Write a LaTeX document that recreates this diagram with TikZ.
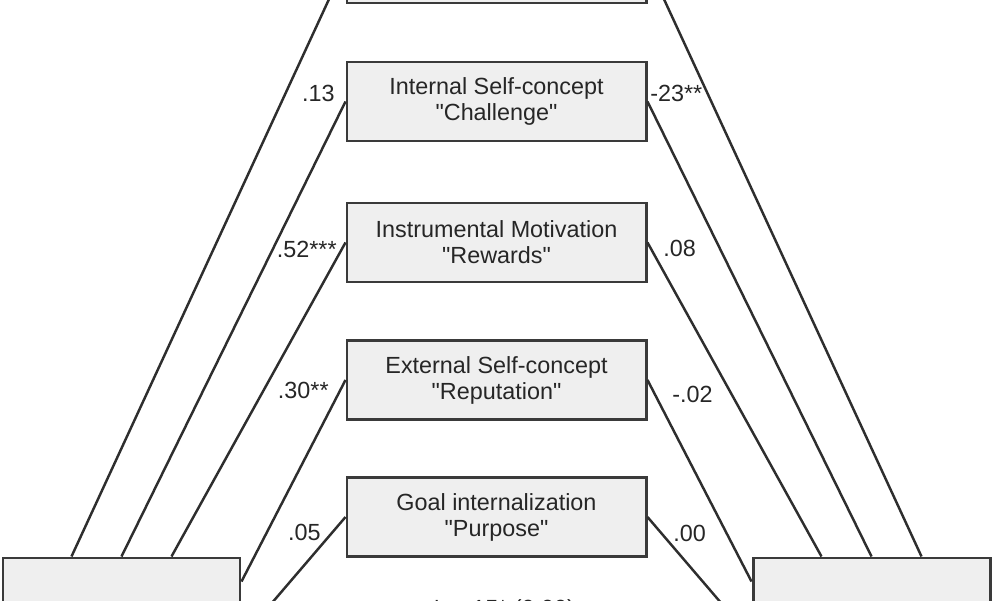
\documentclass[tikz,border=0pt]{standalone}
\usepackage{fontspec}
\setmainfont{Liberation Sans}[Ligatures=TeXOff]
\usetikzlibrary{positioning,calc}
\definecolor{box-fill}{HTML}{EFEFEF}
\definecolor{box-edge}{HTML}{3A3A3A}
\definecolor{path-line}{HTML}{2E2E2E}
\tikzset{
    medbox/.style={fill=box-fill, draw=box-edge, line width=1.7pt, minimum width=5.98cm, minimum height=1.58cm, align=center, font=\fontsize{13.3}{14.8}\selectfont, text=black!85},
    sidebox/.style={fill=box-fill, draw=box-edge, line width=1.7pt, minimum width=4.74cm, minimum height=2.4cm},
    coef/.style={font=\fontsize{13.3}{14.8}\selectfont, text=black!85, inner sep=0pt},
    pathline/.style={draw=path-line, line width=1.4pt}
}

\begin{document}
\begin{tikzpicture}
    \useasboundingbox (0,0) rectangle (20,12);
    \clip (0,0) rectangle (20,12);

    \node[medbox] (goal0) at (9.93, 12.73) {};
    \node[medbox] (challenge) at (9.93, 9.97) {Internal Self-concept\\"Challenge"};
    \node[medbox] (rewards) at (9.93, 7.15) {Instrumental Motivation\\"Rewards"};
    \node[medbox] (reputation) at (9.93, 4.40) {External Self-concept\\"Reputation"};
    \node[medbox] (purpose) at (9.93, 1.66) {Goal internalization\\"Purpose"};

    \node[sidebox] (predictor) at (2.43, -0.36) {};
    \node[sidebox] (outcome) at (17.43, -0.36) {};

    % a paths
    \draw[pathline] ([xshift=-1cm]predictor.north) -- (goal0.west);
    \draw[pathline] (predictor.north) -- (challenge.west);
    \draw[pathline] ([xshift=1cm]predictor.north) -- (rewards.west);
    \draw[pathline] ([yshift=-0.5cm]predictor.north east) -- (reputation.west);
    \draw[pathline] ([yshift=-1.64cm]predictor.north east) -- (purpose.west);

    % b paths
    \draw[pathline] (goal0.east) -- ([xshift=1cm]outcome.north);
    \draw[pathline] (challenge.east) -- (outcome.north);
    \draw[pathline] (rewards.east) -- ([xshift=-1cm]outcome.north);
    \draw[pathline] (reputation.east) -- ([yshift=-0.5cm]outcome.north west);
    \draw[pathline] (purpose.east) -- ([yshift=-1.64cm]outcome.north west);

    \node[coef, anchor=east] (a1) at (6.70, 10.14) {.13};
    \node[coef, anchor=west] (b1) at (13.00, 10.14) {-23**};
    \node[coef, anchor=east] (a2) at (6.74, 7.02) {.52***};
    \node[coef, anchor=west] (b2) at (13.26, 7.04) {.08};
    \node[coef, anchor=east] (a3) at (6.58, 4.20) {.30**};
    \node[coef, anchor=west] (b3) at (13.44, 4.12) {-.02};
    \node[coef, anchor=east] (a4) at (6.42, 1.36) {.05};
    \node[coef, anchor=west] (b4) at (13.46, 1.34) {.00};

    \node[coef] (direct) at (9.98, -0.20) {c' = .15* (0.00)};

\end{tikzpicture}
\end{document}
